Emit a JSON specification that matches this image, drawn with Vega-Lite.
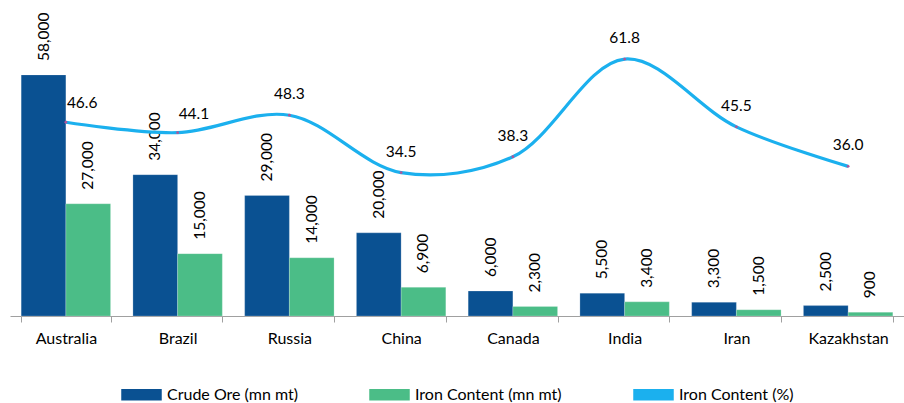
{
  "$schema": "https://vega.github.io/schema/vega-lite/v6.json",
  "width": 894,
  "height": 291,
  "autosize": {"type": "none"},
  "padding": {"left": 10, "top": 25, "right": 0, "bottom": 87},
  "background": "white",
  "config": {
    "font": "Lato",
    "view": {"stroke": null},
    "text": {"font": "Lato", "fontSize": 15, "fill": "#000"}
  },
  "datasets": {
    "bars": [
      {"country": "Australia", "series": "Crude Ore (mn mt)", "value": 58000},
      {"country": "Australia", "series": "Iron Content (mn mt)", "value": 27000},
      {"country": "Brazil", "series": "Crude Ore (mn mt)", "value": 34000},
      {"country": "Brazil", "series": "Iron Content (mn mt)", "value": 15000},
      {"country": "Russia", "series": "Crude Ore (mn mt)", "value": 29000},
      {"country": "Russia", "series": "Iron Content (mn mt)", "value": 14000},
      {"country": "China", "series": "Crude Ore (mn mt)", "value": 20000},
      {"country": "China", "series": "Iron Content (mn mt)", "value": 6900},
      {"country": "Canada", "series": "Crude Ore (mn mt)", "value": 6000},
      {"country": "Canada", "series": "Iron Content (mn mt)", "value": 2300},
      {"country": "India", "series": "Crude Ore (mn mt)", "value": 5500},
      {"country": "India", "series": "Iron Content (mn mt)", "value": 3400},
      {"country": "Iran", "series": "Crude Ore (mn mt)", "value": 3300},
      {"country": "Iran", "series": "Iron Content (mn mt)", "value": 1500},
      {"country": "Kazakhstan", "series": "Crude Ore (mn mt)", "value": 2500},
      {"country": "Kazakhstan", "series": "Iron Content (mn mt)", "value": 900}
    ],
    "pct": [
      {"country": "Australia", "pct": 46.6},
      {"country": "Brazil", "pct": 44.1},
      {"country": "Russia", "pct": 48.3},
      {"country": "China", "pct": 34.5},
      {"country": "Canada", "pct": 38.3},
      {"country": "India", "pct": 61.8},
      {"country": "Iran", "pct": 45.5},
      {"country": "Kazakhstan", "pct": 36.0}
    ]
  },
  "layer": [
    {
      "data": {"name": "bars"},
      "encoding": {
        "x": {
          "field": "country", "type": "nominal",
          "scale": {"domain": ["Australia", "Brazil", "Russia", "China", "Canada", "India", "Iran", "Kazakhstan"], "paddingInner": 0.2, "paddingOuter": 0.1},
          "axis": {"title": null, "labelAngle": 0, "labelFontSize": 16, "labelFont": "Lato", "labelColor": "#000", "labelPadding": 8, "domainColor": "#a0a0a0", "tickColor": "#a0a0a0", "tickSize": 6, "tickBand": "extent", "grid": false}
        },
        "xOffset": {"field": "series", "type": "nominal", "scale": {"domain": ["Crude Ore (mn mt)", "Iron Content (mn mt)"]}},
        "y": {"field": "value", "type": "quantitative", "scale": {"domain": [0, 70000]}, "axis": null}
      },
      "layer": [
        {
          "mark": {"type": "bar", "stroke": "#ffffff", "strokeOpacity": 0.35, "strokeWidth": 0.6},
          "encoding": {
            "color": {
              "field": "series", "type": "nominal",
              "scale": {"domain": ["Crude Ore (mn mt)", "Iron Content (mn mt)", "Iron Content (%)"], "range": ["#0A5192", "#4BBD87", "#1BB0EE"]},
              "legend": {
                "title": null, "orient": "none", "legendX": 111, "legendY": 349, "direction": "horizontal",
                "symbolSize": 1521, "symbolType": "M-1,-0.256H1V0.256H-1Z",
                "labelFontSize": 16, "labelFont": "Lato", "labelColor": "#000", "labelOffset": 5, "columnPadding": 69,
                "encode": {"symbols": {"update": {
                  "shape": {"signal": "datum.value === 'Iron Content (%)' ? 'M-1,-0.1H1V0.1H-1Z' : 'M-1,-0.256H1V0.256H-1Z'"},
                  "fill": {"scale": "color", "field": "value"},
                  "strokeWidth": {"value": 0},
                  "opacity": {"value": 1}
                }}}
              }
            }
          }
        },
        {
          "mark": {"type": "text", "angle": 270, "align": "left", "baseline": "middle", "dx": 14, "fontSize": 15.5, "color": "#000"},
          "encoding": {"text": {"field": "value", "type": "quantitative", "format": ",.0f"}}
        }
      ]
    },
    {
      "data": {"name": "pct"},
      "encoding": {
        "x": {
          "field": "country", "type": "nominal",
          "scale": {"domain": ["Australia", "Brazil", "Russia", "China", "Canada", "India", "Iran", "Kazakhstan"], "paddingInner": 0.2, "paddingOuter": 0.1}
        },
        "y": {"field": "pct", "type": "quantitative", "scale": {"domain": [0, 70]}, "axis": null}
      },
      "layer": [
        {
          "mark": {"type": "line", "interpolate": "catmull-rom", "strokeWidth": 3.2},
          "encoding": {"color": {"datum": "Iron Content (%)", "type": "nominal"}}
        },
        {
          "mark": {"type": "point", "filled": true, "size": 8, "color": "#b0559a", "opacity": 1}
        },
        {
          "transform": [{"filter": {"field": "country", "oneOf": ["Australia", "Brazil"]}}],
          "mark": {"type": "text", "align": "left", "baseline": "middle", "dx": 1, "dy": -19, "fontSize": 15.5, "color": "#000"},
          "encoding": {"text": {"field": "pct", "type": "quantitative", "format": ".1f"}}
        },
        {
          "transform": [{"filter": {"not": {"field": "country", "oneOf": ["Australia", "Brazil"]}}}],
          "mark": {"type": "text", "align": "center", "baseline": "middle", "dy": -21, "fontSize": 15.5, "color": "#000"},
          "encoding": {"text": {"field": "pct", "type": "quantitative", "format": ".1f"}}
        }
      ]
    }
  ],
  "resolve": {"scale": {"y": "independent"}}
}
